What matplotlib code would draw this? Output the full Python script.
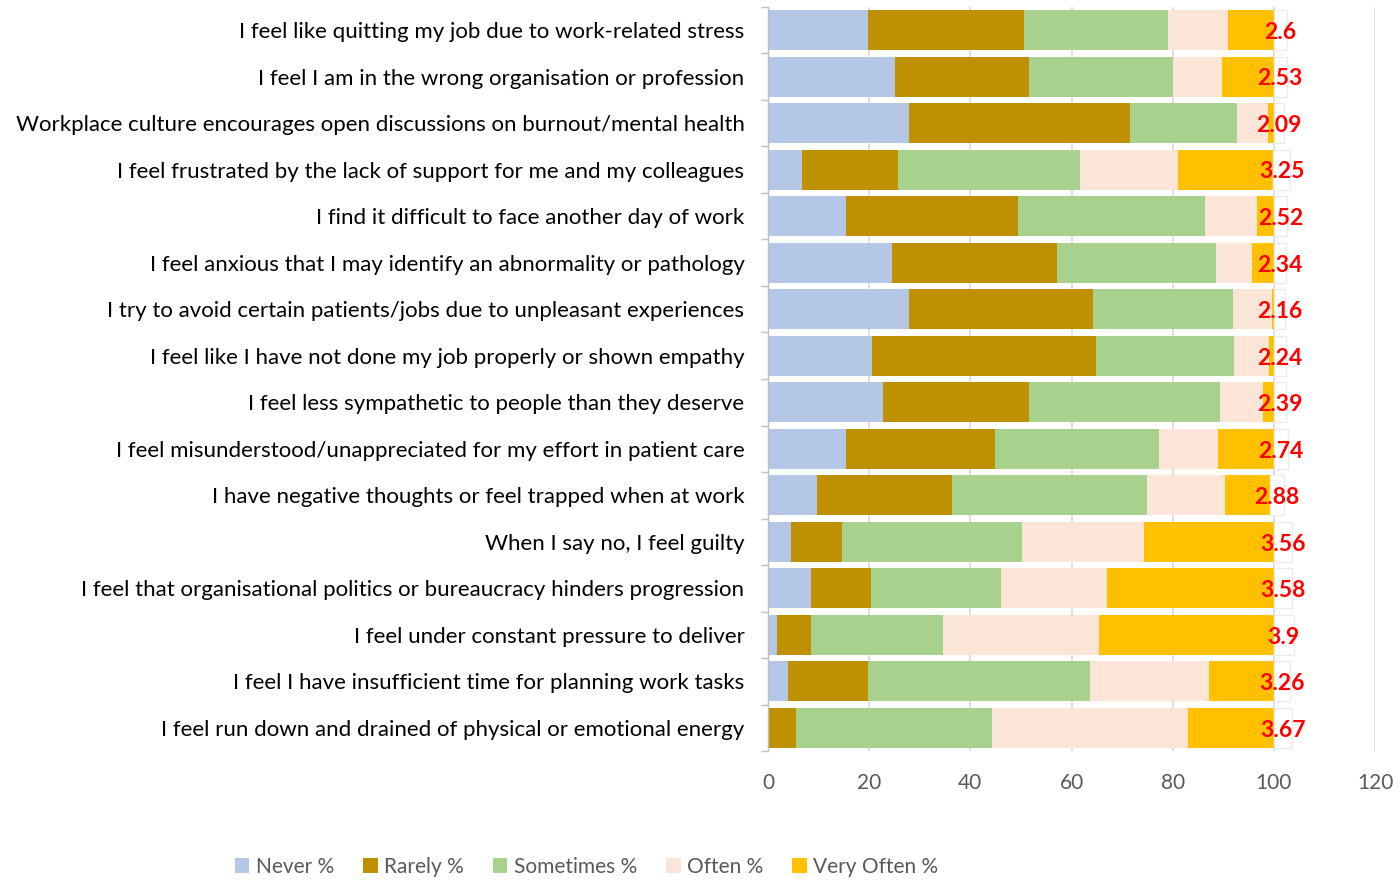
import matplotlib
matplotlib.use("Agg")
import matplotlib.pyplot as plt
import numpy as np

plt.rcParams['font.family'] = ['Lato', 'DejaVu Sans']

statements = [
    "I feel like quitting my job due to work-related stress",
    "I feel I am in the wrong organisation or profession",
    "Workplace culture encourages open discussions on burnout/mental health",
    "I feel frustrated by the lack of support for me and my colleagues",
    "I find it difficult to face another day of work",
    "I feel anxious that I may identify an abnormality or pathology",
    "I try to avoid certain patients/jobs due to unpleasant experiences",
    "I feel like I have not done my job properly or shown empathy",
    "I feel less sympathetic to people than they deserve",
    "I feel misunderstood/unappreciated for my effort in patient care",
    "I have negative thoughts or feel trapped when at work",
    "When I say no, I feel guilty",
    "I feel that organisational politics or bureaucracy hinders progression",
    "I feel under constant pressure to deliver",
    "I feel I have insufficient time for planning work tasks",
    "I feel run down and drained of physical or emotional energy",
]

never = [19.8, 25.0, 27.9, 6.8, 15.4, 24.5, 27.9, 20.5, 22.7, 15.4, 9.7, 4.6, 8.5, 1.7, 3.9, 0.0]
rarely = [30.8, 26.6, 43.6, 18.8, 34.0, 32.6, 36.3, 44.3, 28.9, 29.5, 26.7, 10.1, 11.9, 6.8, 15.8, 5.6]
sometimes = [28.4, 28.5, 21.2, 36.1, 37.0, 31.5, 27.8, 27.3, 37.7, 32.4, 38.6, 35.6, 25.7, 26.1, 43.9, 38.7]
often = [12.0, 9.7, 6.2, 19.4, 10.3, 7.0, 7.6, 6.9, 8.6, 11.6, 15.3, 24.0, 21.0, 30.8, 23.5, 38.8]
very_often = [9.0, 10.2, 1.1, 18.8, 3.3, 4.4, 0.4, 1.1, 2.1, 11.1, 8.9, 25.7, 32.9, 34.6, 12.9, 16.9]
mean_score = [2.6, 2.53, 2.09, 3.25, 2.52, 2.34, 2.16, 2.24, 2.39, 2.74, 2.88, 3.56, 3.58, 3.9, 3.26, 3.67]

series = [
    ("Never %", never, "#b4c7e7"),
    ("Rarely %", rarely, "#bf9000"),
    ("Sometimes %", sometimes, "#a9d18e"),
    ("Often %", often, "#fbe5d6"),
    ("Very Often %", very_often, "#ffc000"),
]

fig = plt.figure(figsize=(14, 8.81), dpi=100)
ax = fig.add_axes([0.5486, 0.1473, 0.4336, 0.845])

y = np.arange(len(statements))
left = np.zeros(len(statements))
for name, vals, col in series:
    vals = np.array(vals)
    ax.barh(y, vals, left=left, height=0.86, color=col, label=name, zorder=2)
    left += vals

# mean score sits as an extra outlined segment after the percentages
ax.barh(y, mean_score, left=left, height=0.86, facecolor="white",
        edgecolor="#ebebeb", linewidth=1, zorder=2)
for yi, l, m in zip(y, left, mean_score):
    ax.text(l + m / 2, yi + 0.05, f"{m:g}", ha="center", va="center",
            color="#ff0000", fontweight="bold", fontsize=16.5, zorder=3)

ax.set_xlim(0, 120)
ax.set_ylim(len(statements) - 0.5, -0.5)
ax.set_xticks(np.arange(0, 121, 20))
ax.xaxis.grid(True, color="#d9d9d9", linewidth=1.2, zorder=0)
ax.set_yticks(y)
ax.set_yticklabels(statements, fontsize=16, color="#000000")
ax.set_yticks(np.arange(-0.5, len(statements)), minor=True)
ax.tick_params(axis="y", which="major", length=0, pad=17)
ax.tick_params(axis="y", which="minor", length=5, color="#bfbfbf", width=1)
ax.tick_params(axis="x", length=0, labelsize=15, labelcolor="#595959", pad=16)

for s in ("top", "right", "bottom"):
    ax.spines[s].set_visible(False)
ax.spines["left"].set_color("#bfbfbf")
ax.spines["left"].set_linewidth(1)

fig.legend(loc="center", bbox_to_anchor=(0.419, 0.016), ncol=5, frameon=False,
           fontsize=15, labelcolor="#595959", handlelength=0.7, handleheight=0.7,
           handletextpad=0.3, columnspacing=1.4)

fig.savefig("out.png", dpi=100)
